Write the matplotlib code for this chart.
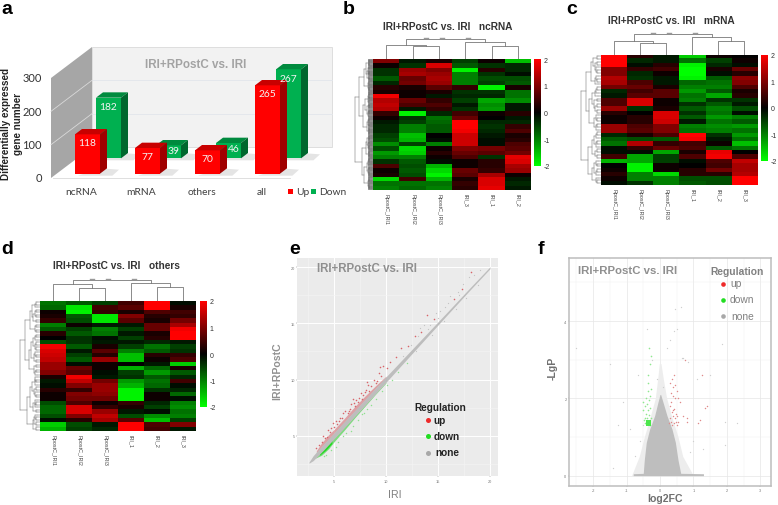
import matplotlib
matplotlib.use('Agg')
import matplotlib.pyplot as plt
from matplotlib.colors import LinearSegmentedColormap
from matplotlib.patches import Polygon, Rectangle
import numpy as np

W, H = 778, 506
SANS = 'Liberation Sans'
plt.rcParams['font.family'] = [SANS, 'DejaVu Sans']
plt.rcParams['axes.unicode_minus'] = False

# panel a
categories = ['ncRNA', 'mRNA', 'others', 'all']
up_counts = [118, 77, 70, 265]
down_counts = [182, 39, 46, 267]

# panels b, c, d: one list per column, top row first
ncrna_cols = ['RpostC_IRI1', 'RpostC_IRI2', 'RpostC_IRI3', 'IRI_3', 'IRI_1', 'IRI_2']
ncrna = [
    [1.0, .1, -.4, -.4, -.7, -.3, .3, .2, 1.9, 1.4, 1.5, 1.4, .4, .1, -.2, -.3, -.3, -.5, -.6, -1.1, -.6, -1.2, -1.0, -.4, .6, .1, .2, -1.7, -.9, -1.0],
    [-.2, -.4, 1.2, 1.3, .8, .9, .2, .1, .1, .8, .6, -.2, -1.9, -.4, -.5, -1.0, -1.0, -1.5, -1.4, -.5, -1.7, -1.6, -1.0, -.7, -.6, -.7, -.6, .5, -.9, -.8],
    [.2, 1.7, 1.0, 1.2, 1.3, 1.2, .7, .2, -.2, .4, .6, .4, -.3, -.9, -.8, -.7, -.7, 0, -.1, -1.0, .1, .3, .1, -.1, -1.4, -1.7, -1.9, -1.4, -.9, -1.0],
    [-.5, -.7, -1.9, -1.0, -1.0, -1.0, .4, -.4, -.3, -.5, -.2, -.4, .5, .8, 2, 2, 1.9, 1.6, 1.6, 1.6, 1.0, .8, .6, .1, .1, .8, .7, .2, .4, .3],
    [.1, -.4, .3, -.4, -.6, -.5, -1.9, -.4, -.3, -1.3, -1.1, -1.2, .1, 0, -.3, -.4, -.3, -.2, -.1, -.1, .9, .7, -.4, .3, .3, .4, 1.3, 1.7, 1.7, 1.8],
    [-1.5, -.3, -.3, -.1, -.6, -.7, .2, -.9, -.9, -1.1, -.2, -.2, .3, -.2, -.3, .4, .6, .2, .3, .6, .7, .9, 1.8, 1.7, 1.3, 1.2, .1, -.2, -.3, -.2],
]
mrna_cols = ['RpostC_IRI1', 'RpostC_IRI2', 'RpostC_IRI3', 'IRI_1', 'IRI_2', 'IRI_3']
mrna = [
    [2, 2, 2, 1.0, 1.0, 1.4, 1.3, .9, -.3, -.2, .6, .6, 1.2, .3, .1, .1, 1.2, 1.2, -.3, -.7, -.9, -.1, -.1, .5, -1.4, 0, .1, .3, .1, -.1],
    [.3, -.3, -.1, .4, -.3, -.4, .6, .8, .5, .7, 1.7, 1.7, -.4, 0, .3, .3, .6, .7, .2, -.6, 1.4, .4, -.1, -1.3, -1.3, -1.9, -1.9, -1.0, -1.0, -.4],
    [-.2, -.2, .3, .5, .1, -.2, -.2, .2, .7, .7, .1, .1, .2, 1.7, 1.7, 1.6, 1.0, 1.0, .6, -.7, .4, .8, -1.3, -.5, -.5, .1, .1, -1.7, -1.0, -1.0],
    [-1.6, -.9, -1.9, -2, -2, -1.9, -.8, -1.0, -1.2, -.9, -1.0, -.4, -.7, -.4, -.7, -.2, -1.0, -.9, 2, 1.9, .5, .6, .2, .6, -.1, 0, .3, .3, -.6, -.7],
    [.1, -.5, -.3, .2, -.1, -.7, -.9, -1.0, -.7, -1.3, -.4, -.7, -1.0, -.9, -1.2, -.9, -1.1, -1.0, -.4, -.2, .1, -.7, 1.8, 1.9, .6, .5, .9, .3, -.6, -.6],
    [0, .1, -.1, .8, .3, 1.1, 1.0, .6, .2, .3, -.4, -.2, -.6, -.1, -1.0, -.7, -1.2, -.9, -1.2, -.9, -1.5, -.9, 0, .6, 1.5, 1.3, 1.3, 1.4, 2, 2],
]
others_cols = ['RpostC_IRI1', 'RpostC_IRI2', 'RpostC_IRI3', 'IRI_1', 'IRI_2', 'IRI_3']
others = [
    [-.9, -.8, .1, .2, .4, -1.0, -.7, .3, 0, -.6, 1.9, 1.7, 1.6, 1.5, 1.2, 1.2, 1.0, .2, -.2, -.1, .3, .1, .1, -.6, -.8, -.8, -.6, -.1, -1.6, -1.4],
    [-.7, -1.8, -1.9, -.7, -.6, .1, -.5, -.7, -.4, -.4, -.7, -.2, -.5, -.7, -.1, .8, .7, 1.9, 1.5, 1.0, .4, 1.0, .9, .6, 1.7, 1.7, 1.0, .3, -.6, -.5],
    [-.5, .5, .4, -1.8, -1.8, -.2, -1.0, -.9, -.1, -.2, .2, .7, .3, 1.2, .1, .1, -.1, -.2, .9, 1.2, 1.2, 1.1, .9, .1, .4, 1.2, 1.5, 1.3, -.2, -.3],
    [.5, .7, .2, 1.0, .7, -.2, -.5, -.2, -.5, -.2, -.5, -1.0, -1.5, -1.5, 0, -1.4, -.5, -.4, -1.2, -1.4, -1.9, -1.9, -1.9, .4, .2, -.2, -.6, .7, 2, 2],
    [2, 2, .6, .3, .2, .8, .8, .2, .3, -.3, -.9, -.7, .3, .1, -.2, -.8, -1.2, -.7, -.9, -.8, -.4, .1, .1, -.3, -.5, -.1, -1.1, -1.5, .6, .5],
    [-.1, .2, .5, .4, .9, 1.3, 1.9, 2, 2, -.2, -.5, -.4, .4, .6, -1.6, .2, -.7, -.3, .5, -.1, -.3, -.8, -.1, -1.0, -1.1, -.9, -1.0, -.5, 1.0, -.2],
]

# panel e: dense bands plus the loose points
band_x = [2.6, 3, 4, 5, 6, 8, 10, 12, 14, 16, 18, 20]
band_lo = [2.55, 2.78, 3.72, 4.72, 5.72, 7.74, 9.76, 11.8, 13.84, 15.88, 17.9, 19.88]
band_hi = [2.65, 3.22, 4.25, 5.25, 6.25, 8.25, 10.24, 12.2, 14.16, 16.12, 18.1, 20.05]
e_up_band_x = [3.3, 3.8, 4.5, 5, 6, 7, 8, 9, 10]
e_up_band_lo = [3.45, 4.0, 4.7, 5.2, 6.2, 7.2, 8.2, 9.2, 10.2]
e_up_band_hi = [3.65, 4.35, 5.1, 5.55, 6.55, 7.6, 8.55, 9.45, 10.3]
e_down_band_x = [3.2, 3.8, 4.5, 5, 6, 7, 8, 9, 10]
e_down_band_lo = [3.0, 3.25, 3.85, 4.45, 5.5, 6.6, 7.65, 8.7, 9.7]
e_down_band_hi = [3.1, 3.6, 4.3, 4.8, 5.8, 6.8, 7.8, 8.8, 9.8]
e_up_x = [3.3, 3.6, 3.8, 3.9, 4.1, 4.3, 4.4, 4.6, 4.7, 4.9, 5, 5.2, 5.3, 5.5, 5.6, 5.8, 5.9, 6.1, 6.3, 6.4, 6.5, 6.6, 6.8, 6.9, 7, 7.1, 7.3, 7.4, 7.6, 7.7, 7.8, 8, 8.1, 8.2, 8.3, 8.4, 8.6, 8.8, 9, 9.1, 9.3, 9.4, 9.5, 9.7, 10.1, 10.4, 11, 11.4, 12.1, 12.8, 13.4, 13.9, 14.6, 16.5, 17.3, 18.2]
e_up_y = [3.9, 4.2, 4.4, 5.0, 4.8, 4.9, 5.5, 5.3, 5.7, 6.1, 5.8, 6.3, 6.0, 6.3, 6.6, 6.6, 7.0, 7.2, 7.0, 7.2, 7.4, 7.8, 8.3, 7.9, 7.6, 8.2, 8.0, 8.4, 8.8, 8.3, 8.6, 8.9, 9.1, 9.8, 9.5, 9.0, 9.4, 10.0, 9.7, 9.9, 10.6, 11.1, 10.3, 11.2, 11.0, 11.6, 12.0, 12.8, 13.0, 13.9, 14.2, 15.75, 15.4, 17.2, 18.1, 19.55]
e_down_x = [4.2, 4.7, 5.4, 5.9, 6.2, 6.6, 7.3, 7.7, 8.2, 8.6, 9.0, 9.6, 10.1, 10.6, 11.2, 12.0, 6.8, 5.2, 4.0, 7.9]
e_down_y = [3.3, 3.7, 4.4, 5.0, 5.2, 5.4, 6.4, 6.9, 7.4, 7.7, 8.3, 9.0, 9.5, 10.0, 10.7, 11.5, 5.9, 4.0, 3.2, 7.0]
e_none_x = [12.4, 13.1, 13.7, 14.2, 14.8, 15.2, 15.7, 16.2, 16.9, 17.4, 18.0, 18.5, 19.0, 12.9, 14.4, 15.6, 16.7, 17.7, 18.8, 11.6, 13.3, 14.0, 15.0, 16.0, 17.0]
e_none_y = [13.1, 13.9, 14.9, 14.9, 15.9, 16.1, 16.5, 17.4, 17.8, 18.5, 19.1, 19.3, 19.8, 12.5, 14.0, 15.2, 16.3, 17.3, 18.4, 12.1, 14.6, 14.5, 15.5, 16.8, 17.5]

# panel f: outline of the dense cloud plus the loose points
cloud_y = [0, .05, .06, .4, .86, 1.2, 1.55, 1.9, 2.1]
cloud_left = [-.8, -.8, -.5, -.47, -.41, -.31, -.16, -.06, 0]
cloud_right = [1.3, 1.3, .62, .54, .46, .36, .21, .09, .02]
halo_y = [0, .5, 1, 1.5, 2, 2.5, 2.9]
halo_left = [-.85, -.62, -.47, -.3, -.14, -.07, -.02]
halo_right = [1.0, .68, .54, .36, .2, .1, .03]
f_up_x = [.28, .3, .33, .35, .37, .39, .42, .44, .47, .5, .52, .55, .3, .34, .38, .43, .48, .33, .4, .46, .4, .35, .45, .8, .82, 1.15, 1.2, 1.35, 1.4, .7, .42, .5, .55, .3, .6, .75, 1.25]
f_up_y = [1.35, 1.5, 1.4, 1.65, 1.32, 1.55, 1.35, 1.5, 1.4, 1.32, 1.55, 1.4, 1.8, 1.9, 1.7, 1.72, 1.6, 2.15, 2.05, 2.0, 2.3, 2.5, 2.35, 1.4, 1.5, 1.35, 1.45, 1.75, 1.8, 1.55, 2.6, 2.2, 2.0, 2.4, 1.9, 3.0, 2.6]
f_down_x = [-.3, -.33, -.36, -.4, -.44, -.28, -.32, -.38, -.42, -.35, -.3, -.39, -.45, -.5, -.33, -.3, -.37, -.42, -.28, -.52, -.35, -.3, -.27, -.32, -.36, -.46, -.48]
f_down_y = [1.32, 1.38, 1.35, 1.4, 1.35, 1.5, 1.58, 1.5, 1.6, 1.7, 1.75, 1.85, 1.8, 1.9, 1.95, 2.05, 2.2, 2.0, 2.25, 1.7, 2.6, 2.9, 3.1, 3.3, 2.4, 1.5, 1.45]
f_none_x = [-.6, -.75, -.9, -1.1, -1.25, -1.5, -.5, -.1, .1, .3, .42, .5, .62, .45, .65, .2, -.25, -.4, -.65, .7, .85, 1.0, 1.3, 1.85, 1.95, 2.3, 1.95, 1.1, .9, 1.5, -1.4, -2.5]
f_none_y = [.9, .5, 1.2, 1.9, 1.3, 2.9, 1.3, 2.5, 2.3, 3.5, 3.75, 3.8, 4.35, 4.3, 3.05, 3.3, 3.0, 3.8, 2.6, 3.05, 2.95, .9, .7, 3.4, 1.4, 1.35, .8, 2.5, .6, 2.6, .2, 3.3]

fig = plt.figure(figsize=(W / 100, H / 100), dpi=100)
fig.patch.set_facecolor('white')


def add_ax(x0, y0, x1, y1, **kw):
    # box given in image pixels, y from the top
    return fig.add_axes([x0 / W, 1 - y1 / H, (x1 - x0) / W, (y1 - y0) / H], **kw)


def label(x, y, s, **kw):
    fig.text(x / W, 1 - y / H, s, **kw)


for letter, lx, ly in [('a', 1, 14), ('b', 343, 14), ('c', 566, 14), ('d', 1, 254), ('e', 289, 254), ('f', 538, 254)]:
    label(lx, ly, letter, fontsize=14, fontweight='bold', color='black', va='baseline')

# ---- panel a: hand built 3D bars
ax = add_ax(0, 40, 345, 200)
px_x = lambda p: (p - 87.5) / 60     # category units
ax.set_xlim(px_x(0), px_x(345))
ax.set_ylim((179 - 200) * 3.0, (179 - 40) * 3.0)
ax.axis('off')
wall_l, wall_r = px_x(92), px_x(332)
left_l = px_x(51)
back_base, wall_top = (179 - 148) * 3.0, 300 + (179 - 148) * 3.0
ax.add_patch(Rectangle((wall_l, back_base), wall_r - wall_l, 300, fc='#F2F2F2', ec='#DADADA', lw=.6))
ax.add_patch(Polygon([(left_l, 0), (wall_l, back_base), (wall_l, wall_top), (left_l, 300)], fc='#A6A6A6', ec='none'))
for tick in [100, 200]:
    ax.plot([wall_l, wall_r], [back_base + tick] * 2, color='#E2E6EC', lw=.6)
    ax.plot([left_l, wall_l], [tick, back_base + tick], color='#D9D9D9', lw=.6)
ax.plot([px_x(53), px_x(290)], [0, 0], color='#D9D9D9', lw=.6)
ax.text(px_x(196), back_base + 300 - 50, 'IRI+RPostC vs. IRI', color='#A3A3A3', fontsize=8.4,
        fontweight='bold', ha='center', va='center')


def bar3d(x_left, base, value, front, top, side, label_x, label_y, z):
    bw, dx, dy = 25 / 60, 7 / 60, 16
    ax.add_patch(Polygon([(x_left + .05, base - 6), (x_left + bw + dx + .09, base - 6), (x_left + bw + dx + .2, base + dy - 4), (x_left + bw, base + dy)],
                         fc='#E4E4E4', ec='none', zorder=z - .5))
    ax.add_patch(Rectangle((x_left, base), bw, value, fc=front, ec='none', zorder=z))
    ax.add_patch(Polygon([(x_left, base + value), (x_left + bw, base + value), (x_left + bw + dx, base + value + dy), (x_left + dx, base + value + dy)],
                         fc=top, ec='none', zorder=z))
    ax.add_patch(Polygon([(x_left + bw, base), (x_left + bw + dx, base + dy), (x_left + bw + dx, base + value + dy), (x_left + bw, base + value)],
                         fc=side, ec='none', zorder=z))
    ax.text(x_left + bw / 2 + label_x, base + label_y, str(value), color='#F4F4F4', fontsize=7.4, family='Lato',
            ha='center', va='center', zorder=z + 3)


for i, (u, d) in enumerate(zip(up_counts, down_counts)):
    red_l = i - 12.5 / 60
    green_l = red_l + 21 / 60
    if d > 100:
        bar3d(green_l, 59, d, '#00B050', '#008A3E', '#00672E', 0, d - 26, 2 + i)
    else:
        bar3d(green_l, 59, d, '#00B050', '#008A3E', '#00672E', .09, d - 17, 2 + i)
    bar3d(red_l, 13, u, '#FF0000', '#C80000', '#A00000', 0, u - 26, 2.2 + i)
for tick in [300, 200, 100, 0]:
    ax.text(px_x(42), tick, str(tick), fontsize=8, family='Lato', ha='right', va='center', color='#333333')
for i, name in enumerate(categories):
    ax.text(i - 6 / 60, -42, name, fontsize=7.4, family='Lato', ha='center', va='center', color='#404040')
ax.add_patch(Rectangle((px_x(288), -47), 5 / 60, 15, fc='#FF0000', ec='none'))
ax.text(px_x(296), -42, 'Up', fontsize=7.4, family='Lato', va='center', color='#404040')
ax.add_patch(Rectangle((px_x(311), -47), 5 / 60, 15, fc='#00B050', ec='none'))
ax.text(px_x(319), -42, 'Down', fontsize=7.4, family='Lato', va='center', color='#404040')
label(12, 124, 'Differentially expressed\ngene number', fontsize=7.1, fontweight='bold', rotation=90,
      ha='center', va='center', linespacing=1.15, color='#222222')

# ---- panels b, c, d: heatmaps
cmap = LinearSegmentedColormap.from_list('gkr', ['#00FF00', '#000000', '#FF0000'])


def row_tree(ax, lo, hi, n, level, color, lw):
    # row dendrogram, returns the y of the node
    pattern = [.58, .42, .66, .35, .5, .6, .44, .7]
    if hi - lo == 1:
        ax.plot([.86, 1], [lo + .5, lo + .5], color=color, lw=lw)
        return lo + .5, .86
    cut = lo + max(1, min(hi - lo - 1, round((hi - lo) * pattern[(lo + level) % 8])))
    y1, x1 = row_tree(ax, lo, cut, n, level + 1, color, lw)
    y2, x2 = row_tree(ax, cut, hi, n, level + 1, color, lw)
    x = min(.98 - .95 * ((hi - lo) / n) ** .55, .8)
    x = min(x, x1 - .02, x2 - .02)
    ax.plot([x, x1], [y1, y1], color=color, lw=lw)
    ax.plot([x, x2], [y2, y2], color=color, lw=lw)
    ax.plot([x, x], [y1, y2], color=color, lw=lw)
    return (y1 + y2) / 2, x


def heatmap(values, cols, box, title, title_xy, cbar, heights, leaves, tree_x):
    x0, y0, x1, y1 = box
    ax = add_ax(x0, y0, x1, y1)
    im = ax.imshow(np.array(values).T, cmap=cmap, vmin=-2, vmax=2, aspect='auto', interpolation='nearest')
    ax.set_xticks([])
    ax.set_yticks([])
    for s in ax.spines.values():
        s.set_visible(False)
    colw = (x1 - x0) / 6
    for i, name in enumerate(cols):
        label(x0 + colw * (i + .5), y1 + 3, name, fontsize=3.9, rotation=-90, ha='center', va='top', color='#444444')
    label(title_xy[0], title_xy[1], title, fontsize=7.25, fontweight='bold', ha='center', va='center', color='#333333')
    # colour bar
    cax = add_ax(*cbar)
    cb = fig.colorbar(im, cax=cax)
    cb.set_ticks([-2, -1, 0, 1, 2])
    cb.outline.set_visible(False)
    cax.tick_params(length=0, labelsize=5, pad=2, labelcolor='#333333')
    # column dendrogram
    root, left, pair_l, right, pair_r = heights
    top = add_ax(x0, y0 - 24, x1, y0)
    top.set_xlim(0, 6)
    top.set_ylim(0, 24)
    top.axis('off')
    c = '#777777'
    segs = [([1.5, 1.5, 2.5, 2.5], [0, pair_l, pair_l, 0]),
            ([.5, .5, 2, 2], [0, left, left, pair_l]),
            ([4.5, 4.5, 5.5, 5.5], [0, pair_r, pair_r, 0]),
            ([3.5, 3.5, 5, 5], [0, right, right, pair_r]),
            ([1.25, 1.25, 4.25, 4.25], [left, root, root, right])]
    for xs, ys in segs:
        top.plot(xs, ys, color=c, lw=.6)
    for mark in [2.0, 2.6, 3.6]:
        top.plot([mark - .08, mark + .08], [root + .8, root + .8], color='#999999', lw=1)
    # row dendrogram
    side = add_ax(tree_x, y0, x0, y1)
    side.set_xlim(0, 1)
    side.set_ylim(leaves, 0)
    side.axis('off')
    row_tree(side, 0, leaves, leaves, 0, '#666666', .35)
    if leaves >= 80:
        side.add_patch(Rectangle((.7, 0), .3, leaves, fc='#222222', alpha=.4, ec='none'))


heatmap(ncrna, ncrna_cols, (373.3, 60.3, 531, 190.7), 'IRI+RPostC vs. IRI   ncRNA', (448, 27),
        (534.3, 60.3, 541, 166.7), (20.3, 14.3, 13, 17, 13.7), 110, 354)
heatmap(mrna, mrna_cols, (601, 55.7, 757.3, 185.7), 'IRI+RPostC vs. IRI   mRNA', (671, 21),
        (761, 55.7, 768, 162), (20.7, 14, 11.3, 17.3, 13.3), 46, 580)
heatmap(others, others_cols, (40, 302, 196, 432), 'IRI+RPostC vs. IRI   others', (116, 266),
        (200, 302, 207, 408), (21, 17, 13, 17.7, 14.3), 52, 19)

# ---- panel e: scatter
ax = add_ax(297.3, 259, 497.7, 477.3, facecolor='#EBEBEB')
ax.set_xlim(1.47, 20.74)
ax.set_ylim(1.38, 20.83)
ax.set_xticks([5, 10, 15, 20])
ax.set_yticks([5, 10, 15, 20])
ax.set_xticks([2.5, 7.5, 12.5, 17.5], minor=True)
ax.set_yticks([2.5, 7.5, 12.5, 17.5], minor=True)
ax.grid(which='major', color='white', lw=.7)
ax.grid(which='minor', color='#F4F4F4', lw=.4)
ax.set_axisbelow(True)
ax.tick_params(which='major', labelsize=2.8, length=1, width=.3, pad=.6, colors='#777777')
ax.tick_params(which='minor', length=0)
for s in ax.spines.values():
    s.set_visible(False)
ax.fill_between(e_up_band_x, e_up_band_lo, e_up_band_hi, color='#D98F94', lw=0, alpha=.8)
ax.fill_between(e_down_band_x, e_down_band_lo, e_down_band_hi, color='#7EDB7E', lw=0)
ax.fill_between([3.6, 4.2, 4.8], [3.25, 3.7, 4.3], [3.7, 4.15, 4.6], color='#22DD22', lw=0)
ax.fill_between(band_x, band_lo, band_hi, color='#BDBDBD', lw=0)
ax.scatter(e_none_x, e_none_y, s=.8, color='#C4C4C4', linewidths=0)
ax.scatter(e_up_x, e_up_y, s=1.3, color='#D8646A', linewidths=0)
ax.scatter(e_down_x, e_down_y, s=1.1, color='#8FE08F', linewidths=0)
ax.text(3.33, 19.95, 'IRI+RPostC vs. IRI', fontsize=8.3, fontweight='bold', color='#8F8F8F', va='center')
ax.text(12.7, 7.55, 'Regulation', fontsize=7.2, fontweight='bold', color='#222222', va='center')
for name, col, ly, tx in [('up', '#EE2A2A', 6.4, 14.6), ('down', '#22DD22', 4.97, 14.6), ('none', '#A8A8A8', 3.5, 14.75)]:
    ax.scatter([14.0], [ly], s=13, color=col, linewidths=0)
    ax.text(tx, ly + .03, name, fontsize=7.2, fontweight='bold', color='#222222', va='center')
label(395, 495, 'IRI', fontsize=7.6, color='#808080', ha='center', va='center')
label(277, 371, 'IRI+RPostC', fontsize=7.6, fontweight='bold', color='#909090', rotation=90, ha='center', va='center')

# ---- panel f: volcano
ax = add_ax(568.7, 259, 771, 486.7, facecolor='white')
ax.set_xlim(-2.73, 3.32)
ax.set_ylim(-.26, 5.63)
ax.set_xticks([-2, -1, 0, 1, 2, 3])
ax.set_yticks([0, 2, 4])
ax.set_xticks([-2.5, -1.5, -.5, .5, 1.5, 2.5], minor=True)
ax.set_yticks([1, 3, 5], minor=True)
ax.grid(which='major', color='#E6E6E6', lw=.5)
ax.grid(which='minor', color='#F1F1F1', lw=.35)
ax.set_axisbelow(True)
ax.tick_params(which='major', labelsize=2.8, length=1, width=.3, pad=.6, colors='#777777')
ax.tick_params(which='minor', length=0)
for s in ax.spines.values():
    s.set_color('#BDBDBD')
    s.set_linewidth(1.1)
ax.fill_betweenx(halo_y, halo_left, halo_right, color='#EDEDED', lw=0)
ax.fill_betweenx(cloud_y, cloud_left, cloud_right, color='#BEBEBE', lw=0)
ax.scatter(f_none_x, f_none_y, s=.9, color='#CFCFCF', linewidths=0)
ax.scatter(f_up_x, f_up_y, s=1.1, color='#E08A8A', linewidths=0)
ax.scatter(f_down_x, f_down_y, s=1.4, color='#8FE88F', linewidths=0)
ax.fill_between([-.42, -.28], [1.28, 1.28], [1.45, 1.45], color='#4CE64C', lw=0)
ax.text(-2.46, 5.32, 'IRI+RPostC vs. IRI', fontsize=8.2, fontweight='bold', color='#8F8F8F', va='center')
ax.text(1.5, 5.3, 'Regulation', fontsize=7.4, color='#808080', va='center', fontweight='semibold')
for name, col, ly, tx in [('up', '#EE2A2A', 4.97, 2.11), ('down', '#22DD22', 4.55, 2.09), ('none', '#A8A8A8', 4.12, 2.13)]:
    ax.scatter([1.89], [ly], s=11, color=col, linewidths=0)
    ax.text(tx, ly + .02, name, fontsize=7.4, color='#808080', va='center')
label(665, 499, 'log2FC', fontsize=7.6, color='#707070', ha='center', va='center', fontweight='semibold')
label(553, 368, '-LgP', fontsize=7.6, color='#707070', rotation=90, ha='center', va='center', fontweight='semibold')

fig.savefig('out.png', dpi=100)
